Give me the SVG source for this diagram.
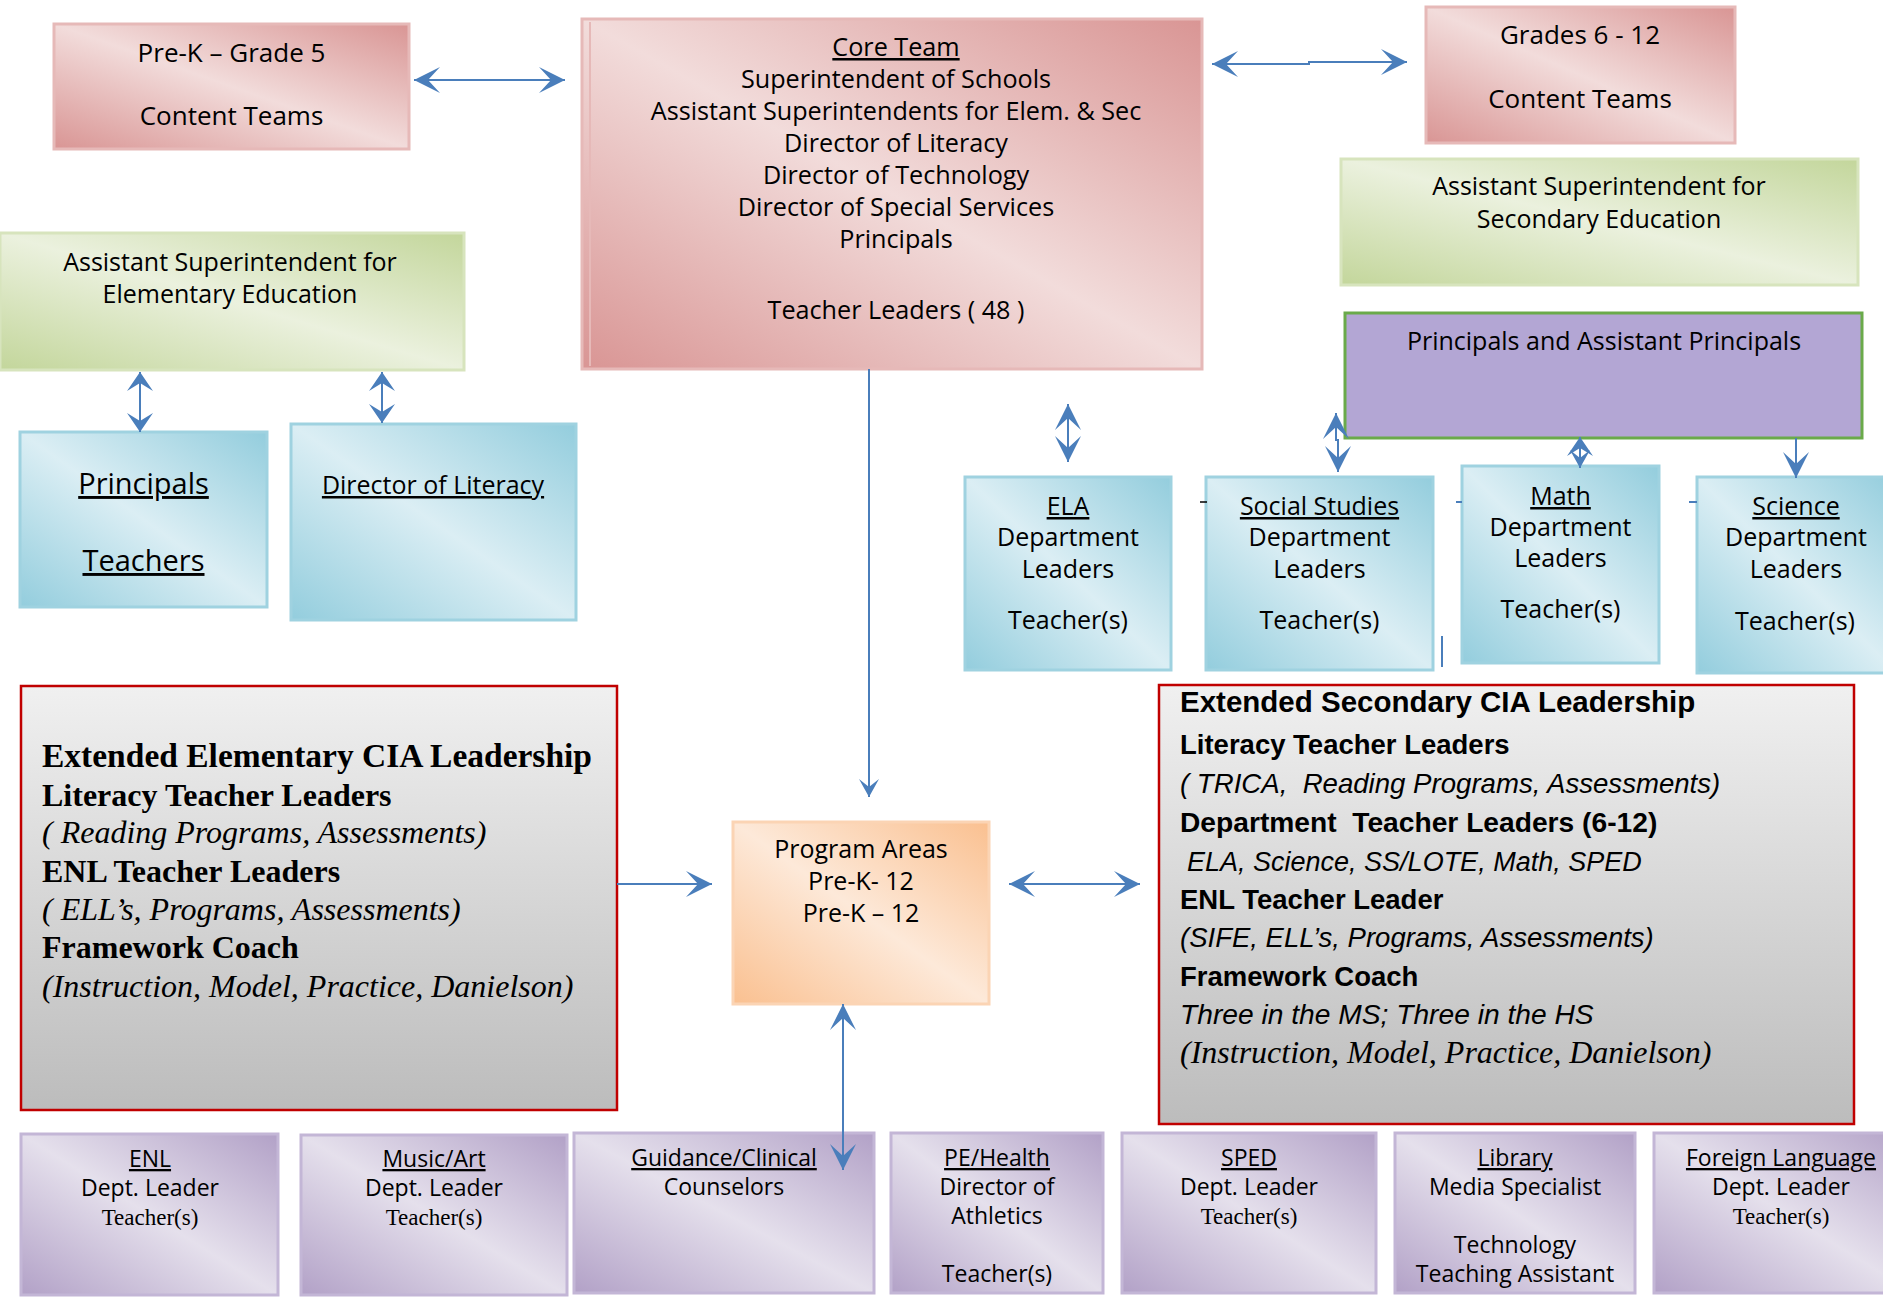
<svg xmlns="http://www.w3.org/2000/svg" width="1883" height="1297" viewBox="0 0 1883 1297">
<style>
.t{font-family:"Open Sans","Noto Sans","DejaVu Sans",sans-serif;fill:#000;text-anchor:middle}
.u{text-decoration:underline}
.f23{font-size:23px}.f24{font-size:25px}.f25{font-size:25px}.f26{font-size:26px}.f29{font-size:29px}.fc{font-size:25.2px}
.sr{font-family:"Liberation Serif","Times New Roman",serif;fill:#000}
.sa{font-family:"Liberation Sans",Arial,sans-serif;fill:#000}
.b{font-weight:bold}.i{font-style:italic}
.conn{stroke:#4a7ebb;stroke-width:2;fill:none}
.pink{fill:url(#gPink);stroke:#e6b9b8;stroke-width:3}
.green{fill:url(#gGreen);stroke:#d7e4bd;stroke-width:3}
.blue{fill:url(#gBlue);stroke:#9fd2e0;stroke-width:3}
.purp{fill:url(#gPurp);stroke:#c3b6d6;stroke-width:3}
.gray{stroke:#c00000;stroke-width:2.5}
</style>
<defs>
<linearGradient id="gPink" x1="0" y1="1" x2="1" y2="0"><stop offset="0" stop-color="#d99594"/><stop offset="0.5" stop-color="#f2dcdb"/><stop offset="1" stop-color="#d99594"/></linearGradient>
<linearGradient id="gGreen" x1="0" y1="1" x2="1" y2="0"><stop offset="0" stop-color="#c3d69b"/><stop offset="0.5" stop-color="#ebf1de"/><stop offset="1" stop-color="#c3d69b"/></linearGradient>
<linearGradient id="gBlue" x1="0" y1="1" x2="1" y2="0"><stop offset="0" stop-color="#93cddd"/><stop offset="0.5" stop-color="#dbeef4"/><stop offset="1" stop-color="#93cddd"/></linearGradient>
<linearGradient id="gPurp" x1="0" y1="1" x2="1" y2="0"><stop offset="0" stop-color="#b2a1c7"/><stop offset="0.5" stop-color="#e5e0ec"/><stop offset="1" stop-color="#b2a1c7"/></linearGradient>
<linearGradient id="gOrange" x1="0" y1="1" x2="1" y2="0"><stop offset="0" stop-color="#fac090"/><stop offset="0.5" stop-color="#fde9d9"/><stop offset="1" stop-color="#fac090"/></linearGradient>
<linearGradient id="gGray" x1="0" y1="0" x2="0" y2="1"><stop offset="0" stop-color="#f0f0f0"/><stop offset="1" stop-color="#bcbcbc"/></linearGradient>
<marker id="ab" markerUnits="userSpaceOnUse" viewBox="0 0 26 26" refX="26" refY="13" markerWidth="26" markerHeight="26" orient="auto-start-reverse"><path d="M26,13 L0,0 L12,13 L0,26 Z" fill="#4a7ebb"/></marker>
<marker id="as" markerUnits="userSpaceOnUse" viewBox="0 0 19 26" refX="19" refY="13" markerWidth="19" markerHeight="26" orient="auto-start-reverse"><path d="M19,13 L0,0 L8,13 L0,26 Z" fill="#4a7ebb"/></marker>
<marker id="am" markerUnits="userSpaceOnUse" viewBox="0 0 18 20" refX="18" refY="10" markerWidth="18" markerHeight="20" orient="auto-start-reverse"><path d="M18,10 L0,0 L8,10 L0,20 Z" fill="#4a7ebb"/></marker>
</defs>

<g id="prek">
<rect class="pink" x="54" y="24" width="355" height="125"/>
<text class="t f26" x="231.5" y="62">Pre-K – Grade 5</text>
<text class="t f26" x="231.5" y="125">Content Teams</text>
</g>

<g id="core">
<rect class="pink" x="582" y="19" width="620" height="350"/>
<line x1="590" y1="22" x2="590" y2="366" stroke="#e6b9b8" stroke-width="2"/>
<text class="t fc u" x="896" y="56">Core Team</text>
<text class="t fc" x="896" y="88">Superintendent of Schools</text>
<text class="t fc" x="896" y="120">Assistant Superintendents for Elem. &amp; Sec</text>
<text class="t fc" x="896" y="152">Director of Literacy</text>
<text class="t fc" x="896" y="184">Director of Technology</text>
<text class="t fc" x="896" y="216">Director of Special Services</text>
<text class="t fc" x="896" y="248">Principals</text>
<text class="t fc" x="896" y="319">Teacher Leaders ( 48 )</text>
</g>

<g id="grades">
<rect class="pink" x="1426" y="7" width="309" height="136"/>
<text class="t f26" x="1580" y="44">Grades 6 - 12</text>
<text class="t f26" x="1580" y="108">Content Teams</text>
</g>

<g id="asst-sec">
<rect class="green" x="1341" y="159" width="517" height="126"/>
<text class="t f24" x="1599" y="195">Assistant Superintendent for</text>
<text class="t f24" x="1599" y="228">Secondary Education</text>
</g>

<g id="principals-ap">
<rect x="1345" y="313" width="517" height="125" fill="#b3a6d4" stroke="#6aaa4a" stroke-width="3"/>
<text class="t f25" x="1604" y="350">Principals and Assistant Principals</text>
</g>

<g id="asst-elem">
<rect class="green" x="0" y="233" width="464" height="137"/>
<text class="t f24" x="230" y="271">Assistant Superintendent for</text>
<text class="t f24" x="230" y="303">Elementary Education</text>
</g>

<g id="principals-teachers">
<rect class="blue" x="20" y="432" width="247" height="175"/>
<text class="t f29 u" x="143.5" y="494">Principals</text>
<text class="t f29 u" x="143.5" y="571">Teachers</text>
</g>

<g id="director-literacy">
<rect class="blue" x="291" y="424" width="285" height="196"/>
<text class="t f25 u" x="433" y="494">Director of Literacy</text>
</g>

<g id="ela">
<rect class="blue" x="965" y="477" width="206" height="193"/>
<text class="t f25 u" x="1068" y="515">ELA</text>
<text class="t f25" x="1068" y="546">Department</text>
<text class="t f25" x="1068" y="578">Leaders</text>
<text class="t f25" x="1068" y="629">Teacher(s)</text>
</g>

<g id="social-studies">
<rect class="blue" x="1206" y="477" width="227" height="193"/>
<text class="t f25 u" x="1319.5" y="515">Social Studies</text>
<text class="t f25" x="1319.5" y="546">Department</text>
<text class="t f25" x="1319.5" y="578">Leaders</text>
<text class="t f25" x="1319.5" y="629">Teacher(s)</text>
</g>

<g id="math">
<rect class="blue" x="1462" y="466" width="197" height="197"/>
<text class="t f25 u" x="1560.5" y="505">Math</text>
<text class="t f25" x="1560.5" y="536">Department</text>
<text class="t f25" x="1560.5" y="567">Leaders</text>
<text class="t f25" x="1560.5" y="618">Teacher(s)</text>
</g>

<g id="science">
<rect class="blue" x="1697" y="477" width="200" height="196"/>
<text class="t f25 u" x="1796" y="515">Science</text>
<text class="t f25" x="1796" y="546">Department</text>
<text class="t f25" x="1796" y="578">Leaders</text>
<text class="t f25" x="1795" y="630">Teacher(s)</text>
</g>

<g id="ext-elem">
<rect class="gray" x="21" y="686" width="596" height="424" fill="url(#gGray)"/>
<text class="sr b" font-size="33.5" x="42" y="767">Extended Elementary CIA Leadership</text>
<text class="sr b" font-size="32" x="42" y="806">Literacy Teacher Leaders</text>
<text class="sr i" font-size="32" x="42" y="843">( Reading Programs, Assessments)</text>
<text class="sr b" font-size="32" x="42" y="882">ENL Teacher Leaders</text>
<text class="sr i" font-size="32" x="42" y="920">( ELL’s, Programs, Assessments)</text>
<text class="sr b" font-size="32" x="42" y="958">Framework Coach</text>
<text class="sr i" font-size="32" x="42" y="997">(Instruction, Model, Practice, Danielson)</text>
</g>

<g id="program-areas">
<rect x="733" y="822" width="256" height="182" fill="url(#gOrange)" stroke="#fbd4b4" stroke-width="3"/>
<text class="t f25" x="861" y="858">Program Areas</text>
<text class="t f25" x="861" y="890">Pre-K- 12</text>
<text class="t f25" x="861" y="922">Pre-K – 12</text>
</g>

<g id="ext-sec">
<rect class="gray" x="1159" y="685" width="695" height="439" fill="url(#gGray)"/>
<text class="sa b" font-size="29.5" x="1180" y="712">Extended Secondary CIA Leadership</text>
<text class="sa b" font-size="27.5" x="1180" y="754">Literacy Teacher Leaders</text>
<text class="sa i" font-size="27.6" x="1180" y="793" xml:space="preserve">( TRICA,  Reading Programs, Assessments)</text>
<text class="sa b" font-size="28.2" x="1180" y="832" xml:space="preserve">Department  Teacher Leaders (6-12)</text>
<text class="sa i" font-size="27" x="1187" y="871">ELA, Science, SS/LOTE, Math, SPED</text>
<text class="sa b" font-size="27.5" x="1180" y="909">ENL Teacher Leader</text>
<text class="sa i" font-size="27.5" x="1180" y="947">(SIFE, ELL’s, Programs, Assessments)</text>
<text class="sa b" font-size="27.5" x="1180" y="986">Framework Coach</text>
<text class="sa i" font-size="28.2" x="1180" y="1024">Three in the MS; Three in the HS</text>
<text class="sr i" font-size="32" x="1180" y="1063">(Instruction, Model, Practice, Danielson)</text>
</g>

<g id="enl">
<rect class="purp" x="21" y="1134" width="257" height="161"/>
<text class="t f23 u" x="150" y="1167">ENL</text>
<text class="t f23" x="150" y="1196">Dept. Leader</text>
<text class="sr" font-size="23" text-anchor="middle" x="150" y="1225">Teacher(s)</text>
</g>

<g id="music-art">
<rect class="purp" x="301" y="1135" width="266" height="160"/>
<text class="t f23 u" x="434" y="1167">Music/Art</text>
<text class="t f23" x="434" y="1196">Dept. Leader</text>
<text class="sr" font-size="23" text-anchor="middle" x="434" y="1225">Teacher(s)</text>
</g>

<g id="guidance">
<rect class="purp" x="574" y="1133" width="300" height="160"/>
<text class="t f23 u" x="724" y="1166">Guidance/Clinical</text>
<text class="t f23" x="724" y="1195">Counselors</text>
</g>

<g id="pe-health">
<rect class="purp" x="891" y="1133" width="212" height="160"/>
<text class="t f23 u" x="997" y="1166">PE/Health</text>
<text class="t f23" x="997" y="1195">Director of</text>
<text class="t f23" x="997" y="1224">Athletics</text>
<text class="t f23" x="997" y="1282">Teacher(s)</text>
</g>

<g id="sped">
<rect class="purp" x="1122" y="1133" width="254" height="160"/>
<text class="t f23 u" x="1249" y="1166">SPED</text>
<text class="t f23" x="1249" y="1195">Dept. Leader</text>
<text class="sr" font-size="23" text-anchor="middle" x="1249" y="1224">Teacher(s)</text>
</g>

<g id="library">
<rect class="purp" x="1395" y="1133" width="240" height="160"/>
<text class="t f23 u" x="1515" y="1166">Library</text>
<text class="t f23" x="1515" y="1195">Media Specialist</text>
<text class="t f23" x="1515" y="1253">Technology</text>
<text class="t f23" x="1515" y="1282">Teaching Assistant</text>
</g>

<g id="foreign-language">
<rect class="purp" x="1654" y="1133" width="260" height="160"/>
<text class="t f23 u" x="1781" y="1166">Foreign Language</text>
<text class="t f23" x="1781" y="1195">Dept. Leader</text>
<text class="sr" font-size="23" text-anchor="middle" x="1781" y="1224">Teacher(s)</text>
</g>

<g id="connectors">
<path class="conn" d="M414,80 H565" marker-start="url(#ab)" marker-end="url(#ab)"/>
<path class="conn" d="M1212,64 H1309 V62 H1407" marker-start="url(#ab)" marker-end="url(#ab)"/>
<path class="conn" d="M140,372 V432" marker-start="url(#as)" marker-end="url(#as)"/>
<path class="conn" d="M382,372 V423" marker-start="url(#as)" marker-end="url(#as)"/>
<path class="conn" d="M869,369 V797" marker-end="url(#am)"/>
<path class="conn" d="M617,884 H712" marker-end="url(#ab)"/>
<path class="conn" d="M1009,884 H1140" marker-start="url(#ab)" marker-end="url(#ab)"/>
<path class="conn" d="M843,1004 V1170" marker-start="url(#ab)" marker-end="url(#ab)"/>
<path class="conn" d="M1068,404 V462" marker-start="url(#ab)" marker-end="url(#ab)"/>
<path class="conn" d="M1336,413 V440 H1338 V472" marker-start="url(#ab)" marker-end="url(#ab)"/>
<path class="conn" d="M1580,437 V468" marker-start="url(#as)" marker-end="url(#am)"/>
<path class="conn" d="M1796,438 V478" marker-end="url(#ab)"/>
<path d="M1200,502 H1207" stroke="#000" stroke-width="1.5"/>
<path class="conn" d="M1456,502 H1462"/>
<path class="conn" d="M1689,502 H1697"/>
<path class="conn" d="M1442,636 V667"/>
</g>
</svg>
